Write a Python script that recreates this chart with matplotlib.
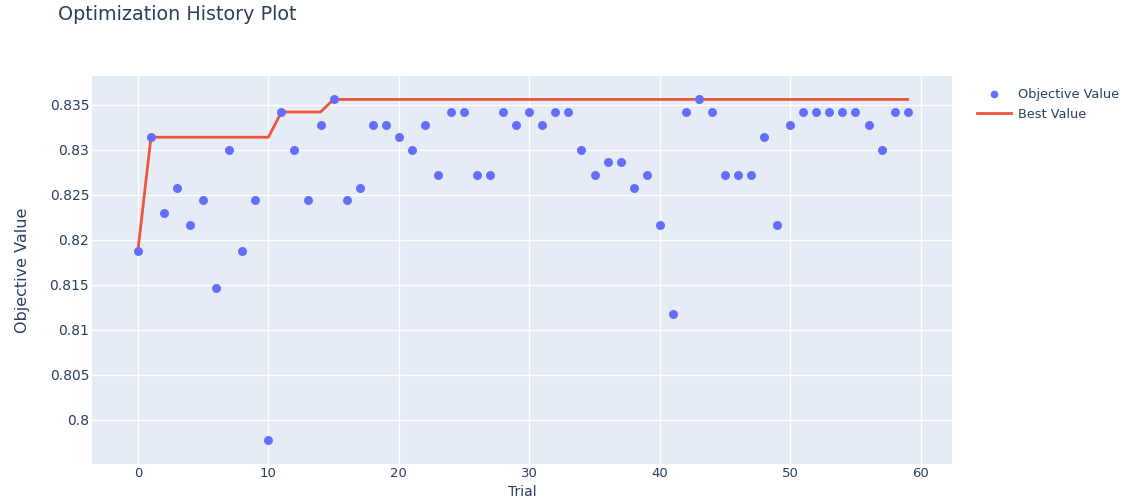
import matplotlib.pyplot as plt
import numpy as np
from matplotlib.lines import Line2D

# objective value per trial
trials = list(range(60))
objective = [
    0.8188, 0.8314, 0.8230, 0.8258, 0.8216, 0.8244, 0.8146, 0.8300, 0.8188, 0.8244,
    0.7978, 0.8342, 0.8300, 0.8244, 0.8328, 0.8356, 0.8244, 0.8258, 0.8328, 0.8328,
    0.8314, 0.8300, 0.8328, 0.8272, 0.8342, 0.8342, 0.8272, 0.8272, 0.8342, 0.8328,
    0.8342, 0.8328, 0.8342, 0.8342, 0.8300, 0.8272, 0.8286, 0.8286, 0.8258, 0.8272,
    0.8216, 0.8118, 0.8342, 0.8356, 0.8342, 0.8272, 0.8272, 0.8272, 0.8314, 0.8216,
    0.8328, 0.8342, 0.8342, 0.8342, 0.8342, 0.8342, 0.8328, 0.8300, 0.8342, 0.8342,
]
best = np.maximum.accumulate(objective)

y_ticks = [0.8, 0.805, 0.81, 0.815, 0.82, 0.825, 0.83, 0.835]
x_ticks = [0, 10, 20, 30, 40, 50, 60]

text_col = '#2a3f5f'
plt.rcParams['font.family'] = ['DejaVu Sans']

fig = plt.figure(figsize=(11.29, 4.99), dpi=100)
ax = fig.add_axes([92/1129, 35/499, 860/1129, 388/499])
ax.set_facecolor('#E5ECF6')
for s in ax.spines.values():
    s.set_visible(False)

ax.scatter(trials, objective, s=42, color='#636efa', zorder=3, linewidths=0)
ax.plot(trials, best, color='#EF553B', lw=2, zorder=2)

ax.set_xlim(-3.52, 62.4)
ax.set_ylim(0.7951, 0.8382)
ax.set_xticks(x_ticks)
ax.set_yticks(y_ticks)
ax.set_yticklabels(['%g' % v for v in y_ticks])
ax.grid(True, color='white', lw=1)
ax.set_axisbelow(True)
ax.tick_params(length=0, colors=text_col, labelsize=10)
ax.tick_params(axis='x', pad=2, labelsize=9.5)
ax.tick_params(axis='y', pad=2)

ax.set_ylabel('Objective Value', color=text_col, fontsize=11.5, labelpad=14)
# x label sits at the very bottom edge, as in the original
fig.text(ax.get_position().x0 + ax.get_position().width / 2, 0, 'Trial',
         color=text_col, fontsize=10, ha='center', va='bottom')

fig.text(58/1129, 1 - 14/499, 'Optimization History Plot', color=text_col,
         fontsize=13.8, va='center', ha='left')

handles = [
    Line2D([], [], ls='none', marker='o', ms=5.5, color='#636efa', mec='none'),
    Line2D([], [], color='#EF553B', lw=2),
]
fig.legend(handles, ['Objective Value', 'Best Value'], loc='upper left',
           bbox_to_anchor=(972/1129, 1 - 83/499), frameon=False, fontsize=9.3,
           labelcolor=text_col, handlelength=2.6, handletextpad=0.55,
           labelspacing=0.5, borderaxespad=0)

fig.savefig('out.png', dpi=100)
